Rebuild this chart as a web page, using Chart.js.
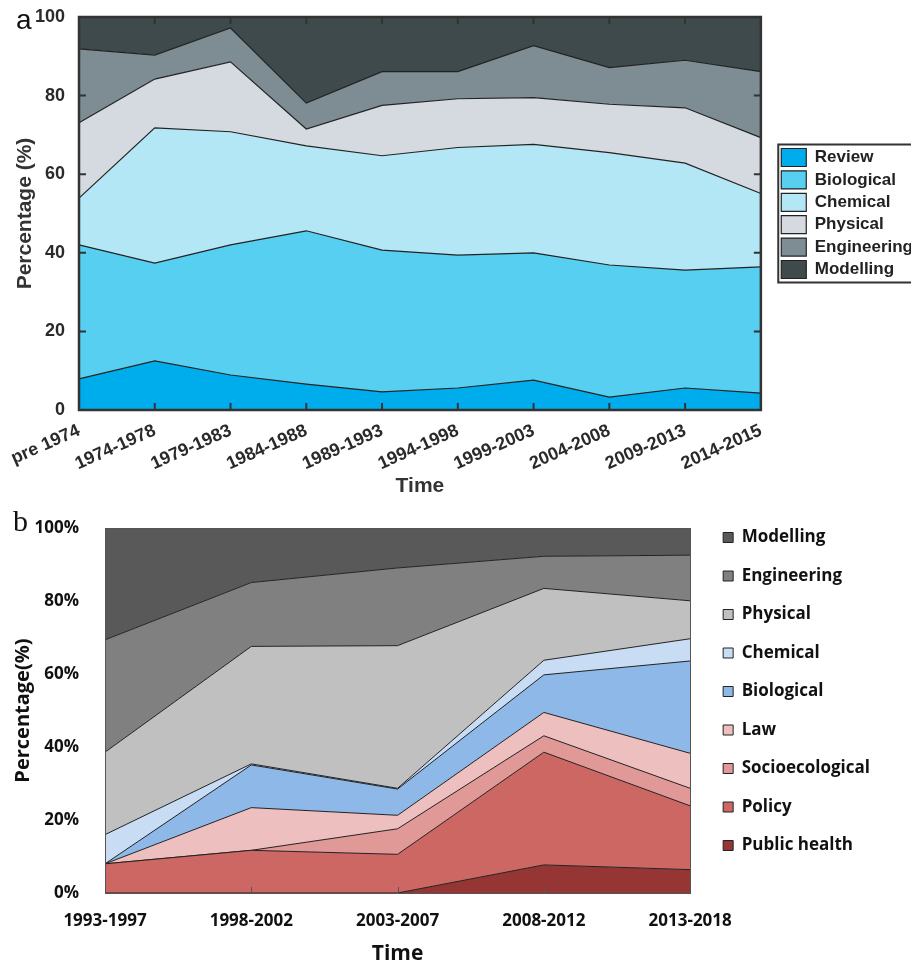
<!DOCTYPE html>
<html>
<head>
<meta charset="utf-8">
<script src="https://cdn.jsdelivr.net/npm/chart.js@4.4.0/dist/chart.umd.min.js"></script>
<style>
  html, body { margin: 0; padding: 0; background: #fff; overflow: hidden; }
  body { width: 911px; height: 965px; position: relative; }
  .panel { position: absolute; left: 0; width: 911px; }
  #wrapA { top: 0; height: 500px; }
  #wrapB { top: 500px; height: 465px; }
  .tag { position: absolute; color: #111; line-height: 1; }
</style>
</head>
<body>
<div class="panel" id="wrapA"><canvas id="chartA"></canvas></div>
<div class="panel" id="wrapB"><canvas id="chartB"></canvas></div>
<div class="tag" style="left:16px;top:4px;font:28px 'Liberation Sans', Arial, sans-serif">a</div>
<div class="tag" style="left:13px;top:504px;font:30px 'Liberation Serif', 'DejaVu Serif', serif">b</div>
<script>
// ---- panel a ----
const periodsA = ['pre 1974', '1974-1978', '1979-1983', '1984-1988', '1989-1993',
                  '1994-1998', '1999-2003', '2004-2008', '2009-2013', '2014-2015'];
const reviewA      = [7.9, 12.5, 8.9, 6.6, 4.6, 5.6, 7.6, 3.3, 5.6, 4.3];
const biologicalA  = [34.1, 24.9, 33.1, 39.0, 36.1, 33.8, 32.4, 33.6, 30.0, 32.1];
const chemicalA    = [11.9, 34.4, 28.8, 21.6, 24.0, 27.4, 27.6, 28.6, 27.2, 18.7];
const physicalA    = [19.2, 12.4, 17.8, 4.3, 12.8, 12.4, 11.9, 12.3, 14.1, 14.2];
const engineeringA = [18.8, 6.1, 8.6, 6.6, 8.6, 6.9, 13.2, 9.3, 12.1, 16.8];
const modellingA   = [8.1, 9.7, 2.8, 21.9, 13.9, 13.9, 7.3, 12.9, 11.0, 13.9];
const ticksA = [0, 20, 40, 60, 80, 100];

// ---- panel b ----
const periodsB = ['1993-1997', '1998-2002', '2003-2007', '2008-2012', '2013-2018'];
const publicHealthB    = [0, 0, 0, 7.7, 6.4];
const policyB          = [8.0, 11.7, 10.6, 30.9, 17.5];
const socioecologicalB = [0, 0, 7.0, 4.5, 4.8];
const lawB             = [0, 11.7, 3.7, 6.4, 9.6];
const biologicalB      = [0, 11.7, 7.2, 10.3, 25.3];
const chemicalB        = [8.0, 0.3, 0.2, 4.0, 6.1];
const physicalB        = [22.6, 32.2, 39.1, 19.7, 10.4];
const engineeringB     = [30.8, 17.5, 21.3, 8.8, 12.5];
const modellingB       = [30.6, 14.9, 10.9, 7.7, 7.4];
const ticksB = [0, 20, 40, 60, 80, 100];

const sansA = "'Liberation Sans', Arial, sans-serif";
const sansB = "'Open Sans', 'Noto Sans', sans-serif";

function layer(label, data, color, first, edge, width) {
    return {
        label: label,
        data: data,
        backgroundColor: color,
        borderColor: edge,
        borderWidth: width,
        fill: first ? 'origin' : '-1',
        pointRadius: 0,
        tension: 0
    };
}

// invisible axis used only to keep a gap between plot and legend
function spacer(position, size) {
    return {
        type: 'linear',
        position: position,
        display: false,
        afterFit(scale) {
            if (position === 'top') scale.height = size;
            else scale.width = size;
        }
    };
}

// frame + inward tick marks for panel a, box round the legend
const frameA = {
    id: 'frameA',
    afterDatasetsDraw(chart) {
        const {ctx, chartArea: a, scales: {x, y}} = chart;
        ctx.save();
        ctx.strokeStyle = '#333';
        ctx.lineWidth = 2;
        ctx.beginPath();
        for (let i = 1; i < x.ticks.length - 1; i++) {
            const px = x.getPixelForTick(i);
            ctx.moveTo(px, a.bottom); ctx.lineTo(px, a.bottom - 7);
            ctx.moveTo(px, a.top); ctx.lineTo(px, a.top + 7);
        }
        for (let i = 1; i < y.ticks.length - 1; i++) {
            const py = y.getPixelForTick(i);
            ctx.moveTo(a.left, py); ctx.lineTo(a.left + 7, py);
            ctx.moveTo(a.right, py); ctx.lineTo(a.right - 7, py);
        }
        ctx.stroke();
        ctx.lineWidth = 2.5;
        ctx.strokeRect(a.left, a.top, a.width, a.height);
        ctx.restore();
    },
    afterDraw(chart) {
        const boxes = chart.legend.legendHitBoxes;
        if (!boxes || !boxes.length) return;
        const first = boxes[0], last = boxes[boxes.length - 1];
        const ctx = chart.ctx;
        ctx.save();
        ctx.strokeStyle = '#333';
        ctx.lineWidth = 2;
        ctx.strokeRect(first.left - 3, first.top - 4, chart.width, last.top + last.height - first.top + 8);
        ctx.restore();
    }
};

const frameB = {
    id: 'frameB',
    afterDatasetsDraw(chart) {
        const {ctx, chartArea: a, scales: {x}} = chart;
        ctx.save();
        ctx.strokeStyle = '#555';
        ctx.lineWidth = 1;
        ctx.beginPath();
        for (let i = 1; i < x.ticks.length - 1; i++) {
            const px = Math.round(x.getPixelForTick(i)) + 0.5;
            ctx.moveTo(px, a.bottom); ctx.lineTo(px, a.bottom - 6);
        }
        ctx.stroke();
        ctx.strokeRect(Math.round(a.left) + 0.5, Math.round(a.top) + 0.5, Math.round(a.width), Math.round(a.height));
        ctx.restore();
    }
};

const chartA = new Chart(document.getElementById('chartA'), {
    type: 'line',
    data: {
        labels: periodsA,
        datasets: [
            layer('Review', reviewA, '#00adec', true, '#222', 1.2),
            layer('Biological', biologicalA, '#56cff1', false, '#222', 1.2),
            layer('Chemical', chemicalA, '#b4e7f5', false, '#222', 1.2),
            layer('Physical', physicalA, '#d4dae0', false, '#222', 1.2),
            layer('Engineering', engineeringA, '#7e8c94', false, '#222', 1.2),
            layer('Modelling', modellingA, '#3e4a4c', false, '#222', 1.2)
        ]
    },
    options: {
        responsive: true,
        maintainAspectRatio: false,
        animation: false,
        events: [],
        layout: { padding: { top: 17, left: 0, bottom: 0, right: -12 } },
        plugins: {
            legend: {
                position: 'right',
                fullSize: false,
                align: 'center',
                labels: {
                    boxWidth: 25,
                    boxHeight: 18,
                    padding: 4.4,
                    color: '#222',
                    font: { family: sansA, size: 17, weight: 'bold' }
                }
            },
            tooltip: { enabled: false }
        },
        scales: {
            x: {
                offset: false,
                grid: { display: false },
                border: { display: false },
                ticks: {
                    autoSkip: false,
                    minRotation: 24,
                    maxRotation: 24,
                    padding: 2,
                    color: '#2a2a2a',
                    font: { family: sansA, size: 18, weight: 'bold' }
                },
                title: {
                    display: true,
                    text: 'Time',
                    color: '#333',
                    padding: { top: 0, bottom: 3 },
                    font: { family: sansA, size: 21, weight: 'bold', lineHeight: 1 }
                },
                afterFit(scale) { scale.height = 90; }
            },
            y: {
                stacked: true,
                min: 0,
                max: 100,
                grid: { display: false },
                border: { display: false },
                afterBuildTicks(scale) { scale.ticks = ticksA.map(v => ({ value: v })); },
                ticks: {
                    padding: 6,
                    color: '#2a2a2a',
                    font: { family: sansA, size: 18, weight: 'bold' }
                },
                title: {
                    display: true,
                    text: 'Percentage (%)',
                    color: '#333',
                    padding: { top: 15, bottom: 0 },
                    font: { family: sansA, size: 21, weight: 'bold', lineHeight: 1 }
                },
                afterFit(scale) { scale.width = 79; }
            },
            gapA: spacer('right', 16)
        }
    },
    plugins: [frameA]
});

const chartB = new Chart(document.getElementById('chartB'), {
    type: 'line',
    data: {
        labels: periodsB,
        datasets: [
            layer('Public health', publicHealthB, '#963634', true, '#222', 1),
            layer('Policy', policyB, '#cd6764', false, '#222', 1),
            layer('Socioecological', socioecologicalB, '#e09997', false, '#222', 1),
            layer('Law', lawB, '#edbfbe', false, '#222', 1),
            layer('Biological', biologicalB, '#8db8e8', false, '#222', 1),
            layer('Chemical', chemicalB, '#c8dcf4', false, '#222', 1),
            layer('Physical', physicalB, '#c0c0c0', false, '#222', 1),
            layer('Engineering', engineeringB, '#808080', false, '#222', 1),
            layer('Modelling', modellingB, '#595959', false, '#222', 1)
        ]
    },
    options: {
        responsive: true,
        maintainAspectRatio: false,
        animation: false,
        events: [],
        layout: { padding: { top: 7.5, left: 0, bottom: 0, right: 31 } },
        plugins: {
            legend: {
                position: 'right',
                align: 'start',
                reverse: true,
                labels: {
                    boxWidth: 10,
                    boxHeight: 10,
                    padding: 21.5,
                    color: '#111',
                    font: { family: sansB, size: 17, weight: 'bold' }
                }
            },
            tooltip: { enabled: false }
        },
        scales: {
            x: {
                offset: false,
                grid: { display: false },
                border: { display: false },
                ticks: {
                    autoSkip: false,
                    maxRotation: 0,
                    padding: 10,
                    color: '#111',
                    font: { family: sansB, size: 17, weight: 'bold' }
                },
                title: {
                    display: true,
                    text: 'Time',
                    color: '#111',
                    padding: { top: 0, bottom: 0 },
                    font: { family: sansB, size: 21, weight: 'bold', lineHeight: 1 }
                },
                afterFit(scale) { scale.height = 72; }
            },
            y: {
                stacked: true,
                min: 0,
                max: 100,
                grid: { display: false },
                border: { display: false },
                afterBuildTicks(scale) { scale.ticks = ticksB.map(v => ({ value: v })); },
                ticks: {
                    padding: 18,
                    color: '#111',
                    font: { family: sansB, size: 17, weight: 'bold' },
                    callback: v => v + '%'
                },
                title: {
                    display: true,
                    text: 'Percentage(%)',
                    color: '#111',
                    padding: { top: 13, bottom: 0 },
                    font: { family: sansB, size: 20, weight: 'bold', lineHeight: 1 }
                },
                afterFit(scale) { scale.width = 105; }
            },
            gapTopB: spacer('top', 9.5),
            gapB: spacer('right', 11.5)
        }
    },
    plugins: [frameB]
});
</script>
</body>
</html>
